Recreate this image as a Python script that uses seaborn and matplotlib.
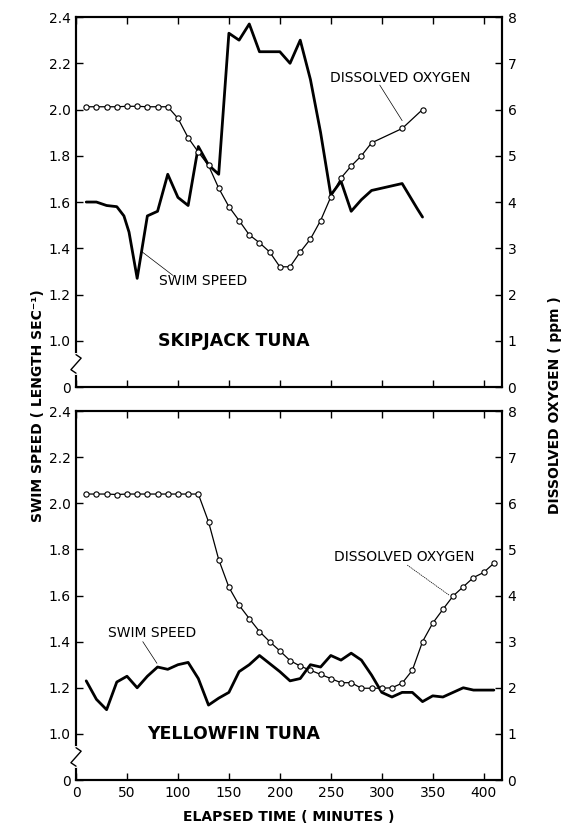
import numpy as np
import pandas as pd
import matplotlib
matplotlib.use("Agg")
import matplotlib.pyplot as plt
import seaborn as sns

# skipjack tuna (top panel)
sk_speed_t = [10, 20, 30, 40, 47, 52, 60, 70, 80, 90, 100, 110, 120, 130, 140, 150, 160,
              170, 180, 200, 210, 220, 230, 240, 250, 260, 270, 280, 290, 300, 320, 335, 340]
sk_speed = [1.60, 1.60, 1.585, 1.58, 1.54, 1.47, 1.27, 1.54, 1.56, 1.72, 1.62, 1.585, 1.84,
            1.76, 1.72, 2.33, 2.30, 2.37, 2.25, 2.25, 2.20, 2.30, 2.13, 1.90, 1.63, 1.69,
            1.56, 1.61, 1.65, 1.66, 1.68, 1.57, 1.535]
sk_oxy_t = [10, 20, 30, 40, 50, 60, 70, 80, 90, 100, 110, 120, 130, 140, 150, 160, 170, 180,
            190, 200, 210, 220, 230, 240, 250, 260, 270, 280, 290, 320, 340]
sk_oxy = [6.06, 6.06, 6.06, 6.06, 6.07, 6.07, 6.06, 6.06, 6.06, 5.81, 5.39, 5.08, 4.79, 4.30,
          3.90, 3.60, 3.29, 3.12, 2.92, 2.60, 2.60, 2.92, 3.20, 3.60, 4.11, 4.52, 4.78, 5.00,
          5.28, 5.59, 6.00]

# yellowfin tuna (bottom panel)
yf_speed_t = [10, 20, 30, 40, 50, 60, 70, 80, 90, 100, 110, 120, 130, 140, 150, 160, 170, 180,
              190, 200, 210, 220, 230, 240, 250, 260, 270, 280, 290, 300, 310, 320, 330, 340,
              350, 360, 370, 380, 390, 410]
yf_speed = [1.23, 1.15, 1.105, 1.225, 1.25, 1.20, 1.25, 1.29, 1.28, 1.30, 1.31, 1.24, 1.125,
            1.155, 1.18, 1.27, 1.30, 1.34, 1.305, 1.27, 1.23, 1.24, 1.30, 1.29, 1.34, 1.32,
            1.35, 1.32, 1.255, 1.18, 1.16, 1.18, 1.18, 1.14, 1.165, 1.16, 1.18, 1.20, 1.19, 1.19]
yf_oxy_t = list(range(10, 420, 10))
yf_oxy = [6.20, 6.20, 6.20, 6.19, 6.20, 6.20, 6.20, 6.20, 6.20, 6.20, 6.20, 6.20, 5.60, 4.78,
          4.18, 3.79, 3.50, 3.22, 3.00, 2.80, 2.59, 2.47, 2.38, 2.29, 2.20, 2.11, 2.11, 1.99,
          1.99, 1.99, 2.00, 2.10, 2.38, 3.00, 3.40, 3.70, 3.99, 4.19, 4.39, 4.50, 4.70]

x_ticks = [0, 50, 100, 150, 200, 250, 300, 350, 400]
speed_ticks = [0.8, 1.0, 1.2, 1.4, 1.6, 1.8, 2.0, 2.2, 2.4]
speed_labels = ["0", "1.0", "1.2", "1.4", "1.6", "1.8", "2.0", "2.2", "2.4"]
oxy_ticks = [0, 1, 2, 3, 4, 5, 6, 7, 8]

sns.set_style("ticks")
plt.rcParams['font.family'] = ['DejaVu Sans']
plt.rcParams['axes.linewidth'] = 1.5
for k in ['text.color', 'axes.labelcolor', 'xtick.color', 'ytick.color', 'axes.edgecolor']:
    plt.rcParams[k] = 'black'

fig = plt.figure(figsize=(5.64, 8.27), dpi=100)
ax_top = fig.add_axes([0.1348, 0.532, 0.7553, 0.4474])
ax_bot = fig.add_axes([0.1348, 0.0568, 0.7553, 0.4462])

panels = [
    (ax_top, sk_speed_t, sk_speed, sk_oxy_t, sk_oxy, "SKIPJACK TUNA"),
    (ax_bot, yf_speed_t, yf_speed, yf_oxy_t, yf_oxy, "YELLOWFIN TUNA"),
]

twins = []
for ax, st, sv, ot, ov, name in panels:
    sns.lineplot(x=st, y=sv, ax=ax, color="black", lw=2.0)
    ax.set_xlim(0, 418)
    ax.set_ylim(0.8, 2.4)
    ax.set_yticks(speed_ticks)
    ax.set_yticklabels(speed_labels)
    ax.set_xticks(x_ticks)
    ax.tick_params(direction="in", length=5, width=1, labelsize=10, pad=4, top=True)
    ax2 = ax.twinx()
    twins.append(ax2)
    sns.lineplot(x=ot, y=ov, ax=ax2, color="black", lw=0.9, marker="o", markersize=3.8,
                 markerfacecolor="white", markeredgecolor="black", markeredgewidth=0.8)
    ax2.set_ylim(0, 8)
    ax2.set_yticks(oxy_ticks)
    ax2.tick_params(direction="in", length=5, width=1, labelsize=10, pad=4)
    for a in (ax, ax2):
        a.set_xlabel("")
        a.set_ylabel("")
        for s in a.spines.values():
            s.set_linewidth(1.5)
    # axis break on the left spine (drawn on the twin, which sits on top)
    tr = ax.get_yaxis_transform()
    ax2.plot([0, 0], [0.86, 0.94], transform=tr, color="white", lw=3, clip_on=False, zorder=5)
    ax2.plot([0, 0.012, -0.012, 0], [0.94, 0.925, 0.875, 0.86], transform=tr, color="black",
             lw=1.0, clip_on=False, zorder=6)
    ax.text(0.37, 1.0, name, transform=tr, ha="center", va="center",
            fontsize=12.5, fontweight="bold")

ax_top.set_xticklabels([])
ax_top_r, ax_bot_r = twins

# annotations with leader lines
ax_top.text(125, 1.257, "SWIM SPEED", ha="center", va="center", fontsize=10)
ax_top.plot([65, 95], [1.384, 1.283], color="black", lw=0.5)
ax_top_r.text(318, 6.68, "DISSOLVED OXYGEN", ha="center", va="center", fontsize=10)
ax_top_r.plot([298, 320], [6.53, 5.76], color="black", lw=0.5)

ax_bot.text(75, 1.436, "SWIM SPEED", ha="center", va="center", fontsize=10)
ax_bot.plot([65.5, 79.4], [1.40, 1.306], color="black", lw=0.5)
ax_bot_r.text(322, 4.84, "DISSOLVED OXYGEN", ha="center", va="center", fontsize=10)
ax_bot_r.plot([325, 366], [4.66, 4.01], color="black", lw=0.5, ls=(0, (2, 1)))

fig.text(0.067, 0.51, "SWIM SPEED ( LENGTH SEC⁻¹)", rotation=90, ha="center", va="center",
         fontsize=10, fontweight="bold")
fig.text(0.984, 0.51, "DISSOLVED OXYGEN ( ppm )", rotation=90, ha="center", va="center",
         fontsize=10, fontweight="bold")
fig.text(0.512, 0.012, "ELAPSED TIME ( MINUTES )", ha="center", va="center",
         fontsize=10, fontweight="bold")

fig.savefig("out.png", dpi=100)
